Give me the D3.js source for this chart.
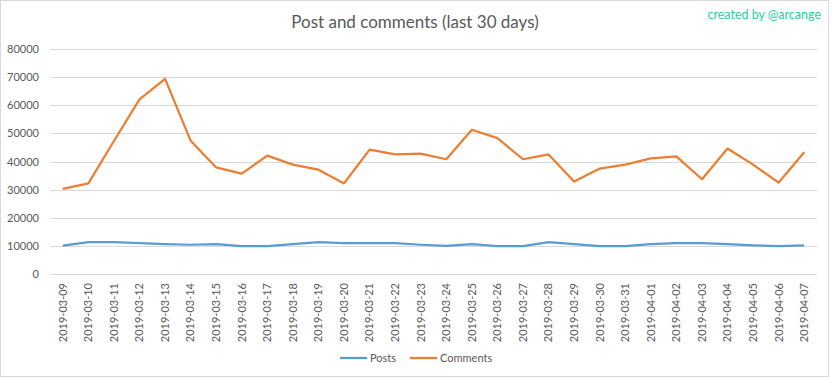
<!DOCTYPE html>
<html>
<head>
<meta charset="utf-8">
<script src="https://cdn.jsdelivr.net/npm/d3@7"></script>
<style>
  body { margin: 0; background: #fff; }
  text { font-family: Lato, "Open Sans", sans-serif; }
</style>
</head>
<body>
<div id="chart-area"></div>
<script>
/* Data */
var dates = ["2019-03-09","2019-03-10","2019-03-11","2019-03-12","2019-03-13","2019-03-14",
  "2019-03-15","2019-03-16","2019-03-17","2019-03-18","2019-03-19","2019-03-20","2019-03-21",
  "2019-03-22","2019-03-23","2019-03-24","2019-03-25","2019-03-26","2019-03-27","2019-03-28",
  "2019-03-29","2019-03-30","2019-03-31","2019-04-01","2019-04-02","2019-04-03","2019-04-04",
  "2019-04-05","2019-04-06","2019-04-07"];
var posts = [10100,11300,11300,11000,10600,10400,10600,9900,9900,10600,11300,11000,11000,
  11000,10400,10000,10600,9900,9900,11300,10600,9900,9900,10600,11000,11000,10600,10200,9900,10200];
var comments = [30300,32200,47300,62100,69400,47400,37900,35700,42100,38900,37100,32200,44200,
  42500,42800,40800,51300,48300,40800,42500,32900,37500,38900,41100,41800,33700,44600,38900,32500,43300];
var yTicks = [0,10000,20000,30000,40000,50000,60000,70000,80000];

var W = 832, H = 378;
var margin = { left:50, right:15, top:49, bottom:104 };
var width = W - margin.left - margin.right;
var height = H - margin.top - margin.bottom;

var svg = d3.select("#chart-area").append("svg")
  .attr("width", W)
  .attr("height", H);

// outer border
svg.append("rect")
  .attr("x", 0.5).attr("y", 0.5)
  .attr("width", W - 4).attr("height", H - 2)
  .attr("fill", "#fff")
  .attr("stroke", "#d9d9d9");

// title
svg.append("text")
  .attr("x", 415).attr("y", 28)
  .attr("text-anchor", "middle")
  .attr("font-size", "17px")
  .attr("fill", "#595959")
  .text("Post and comments (last 30 days)");

svg.append("text")
  .attr("x", 821).attr("y", 19)
  .attr("text-anchor", "end")
  .attr("font-size", "12.5px")
  .attr("fill", "#1fd1a8")
  .text("created by @arcange");

var g = svg.append("g")
  .attr("transform", "translate(" + margin.left + ", " + margin.top + ")");

var x = d3.scaleBand()
  .domain(dates)
  .range([0, width]);

var y = d3.scaleLinear()
  .domain([0, 80000])
  .range([height, 0]);

// gridlines
g.selectAll(".grid")
  .data(yTicks)
  .enter()
  .append("line")
    .attr("x1", 0).attr("x2", width)
    .attr("y1", (d)=>{return Math.round(y(d)) + 0.5})
    .attr("y2", (d)=>{return Math.round(y(d)) + 0.5})
    .attr("stroke", "#d9d9d9");

// y axis
var yAxisCall = d3.axisLeft(y).tickValues(yTicks).tickSize(0).tickPadding(11)
  .tickFormat((d)=>{return d});
var yAxis = g.append("g").attr("class", "y-axis").call(yAxisCall);
yAxis.select(".domain").remove();
yAxis.selectAll("text").attr("font-size", "11px").attr("fill", "#595959")
  .style("font-family", "Lato, sans-serif");

// x axis
var xAxisCall = d3.axisBottom(x).tickSize(0);
var xAxis = g.append("g")
  .attr("transform", "translate(0, " + height + ")")
  .call(xAxisCall);
xAxis.select(".domain").remove();
xAxis.selectAll("text")
  .attr("font-size", "11px")
  .attr("fill", "#595959")
  .style("font-family", "Lato, sans-serif")
  .attr("text-anchor", "end")
  .attr("dy", "0.35em")
  .attr("x", -9)
  .attr("y", 0)
  .attr("transform", "rotate(-90)");

// lines
var line = (vals)=>{
  return d3.line()
    .x((d, i)=>{return x(dates[i]) + x.bandwidth() / 2})
    .y((d)=>{return y(d)})(vals);
};

g.append("path")
  .attr("d", line(posts))
  .attr("fill", "none")
  .attr("stroke", "#5b9bd5")
  .attr("stroke-width", 2.25)
  .attr("stroke-linejoin", "round");

g.append("path")
  .attr("d", line(comments))
  .attr("fill", "none")
  .attr("stroke", "#ed7d31")
  .attr("stroke-width", 2.25)
  .attr("stroke-linejoin", "round");

// legend
var legend = [
  { name: "Posts", color: "#5b9bd5", x: 340 },
  { name: "Comments", color: "#ed7d31", x: 410 }
];
legend.forEach((l)=>{
  svg.append("line")
    .attr("x1", l.x).attr("x2", l.x + 27)
    .attr("y1", 358).attr("y2", 358)
    .attr("stroke", l.color).attr("stroke-width", 2.25);
  svg.append("text")
    .attr("x", l.x + 30).attr("y", 362)
    .attr("font-size", "11px")
    .attr("fill", "#595959")
    .text(l.name);
});
</script>
</body>
</html>
